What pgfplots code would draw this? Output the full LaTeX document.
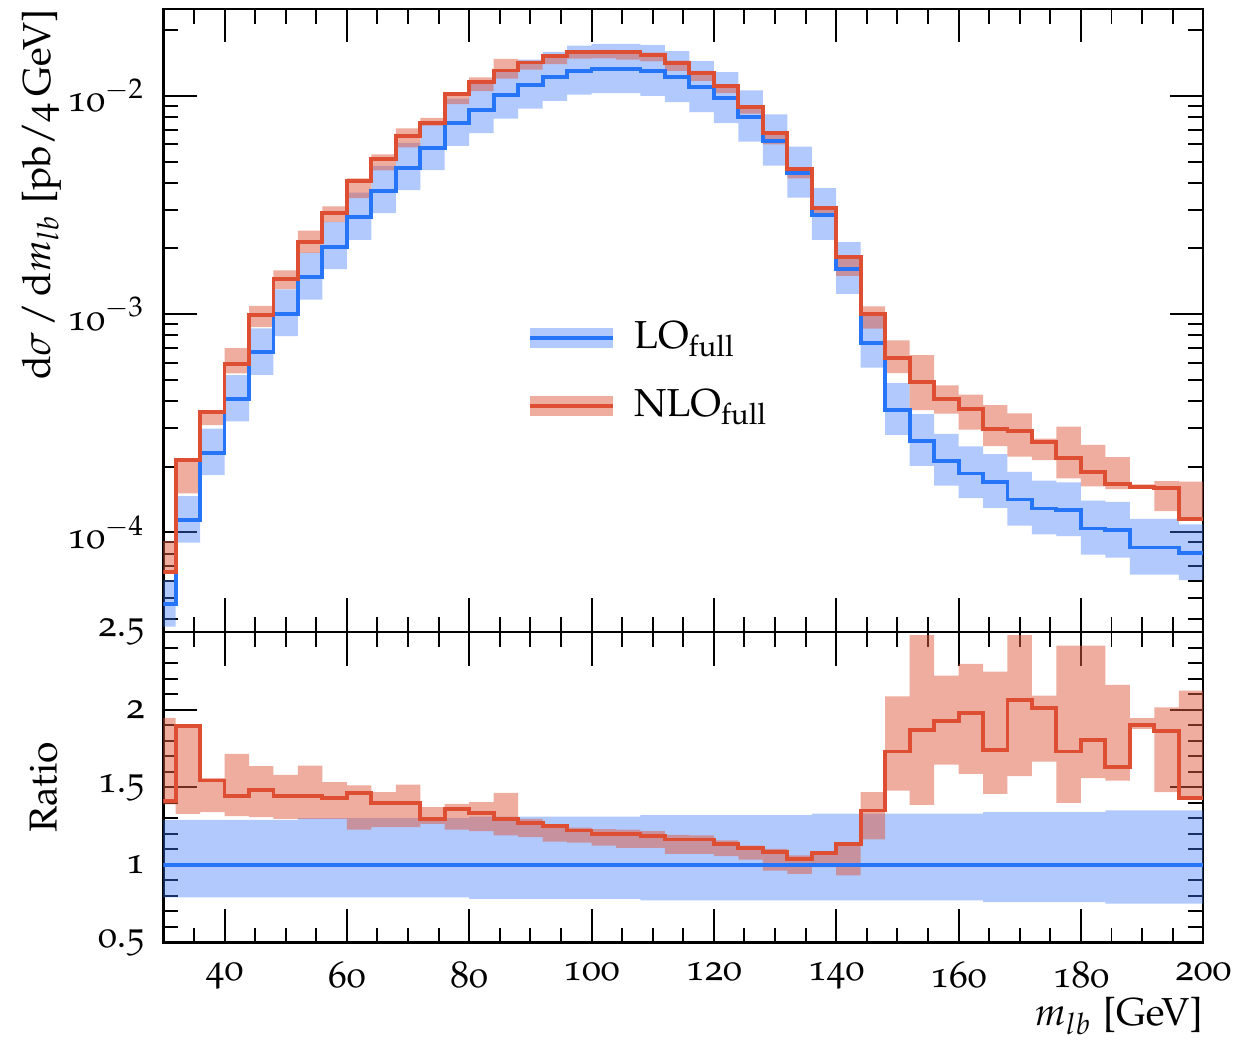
\documentclass[border=0pt]{standalone}
\usepackage[T1]{fontenc}
\usepackage[osf]{mathpazo}
\usepackage{pgfplots}
\pgfplotsset{compat=1.18}
\usepackage{pgfplotstable}
\usepgfplotslibrary{fillbetween}

\definecolor{loline}{RGB}{38,117,248}
\definecolor{loband}{RGB}{60,120,250}
\definecolor{nloline}{RGB}{222,78,50}
\definecolor{nloband}{RGB}{222,92,62}

% m_lb distribution, left bin edges (last row closes the final bin)
% x  LO  LO-down  LO-up  NLO  NLO-down  NLO-up
\pgfplotstableread{
x   lo        lolo      lohi      nlo       nlolo     nlohi
28  4.694e-5  3.708e-5  6.055e-5  6.619e-5  6.525e-5  9.139e-5
32  1.138e-4  8.990e-5  1.468e-4  2.154e-4  1.511e-4  2.162e-4
36  2.316e-4  1.830e-4  2.988e-4  3.574e-4  3.101e-4  3.608e-4
40  4.080e-4  3.223e-4  5.263e-4  5.900e-4  5.357e-4  6.997e-4
44  6.680e-4  5.277e-4  8.617e-4  9.906e-4  8.731e-4  1.092e-3
48  1.005e-3  7.940e-4  1.297e-3  1.453e-3  1.303e-3  1.588e-3
52  1.473e-3  1.164e-3  1.915e-3  2.130e-3  1.909e-3  2.414e-3
56  2.034e-3  1.607e-3  2.644e-3  2.911e-3  2.636e-3  3.116e-3
60  2.773e-3  2.191e-3  3.605e-3  4.054e-3  3.402e-3  4.190e-3
64  3.671e-3  2.900e-3  4.772e-3  5.136e-3  4.559e-3  5.389e-3
68  4.679e-3  3.696e-3  6.083e-3  6.546e-3  5.811e-3  7.098e-3
72  5.777e-3  4.564e-3  7.510e-3  7.487e-3  7.302e-3  7.920e-3
76  7.473e-3  5.904e-3  9.715e-3  1.017e-2  9.169e-3  1.041e-2
80  8.646e-3  6.744e-3  1.133e-2  1.154e-2  1.052e-2  1.214e-2
84  1.007e-2  7.858e-3  1.320e-2  1.306e-2  1.198e-2  1.475e-2
88  1.119e-2  8.728e-3  1.466e-2  1.421e-2  1.318e-2  1.450e-2
92  1.214e-2  9.469e-3  1.590e-2  1.516e-2  1.396e-2  1.530e-2
96  1.297e-2  1.012e-2  1.699e-2  1.584e-2  1.481e-2  1.608e-2
100 1.321e-2  1.030e-2  1.731e-2  1.585e-2  1.485e-2  1.625e-2
104 1.321e-2  1.030e-2  1.731e-2  1.585e-2  1.465e-2  1.621e-2
108 1.297e-2  9.987e-3  1.712e-2  1.537e-2  1.438e-2  1.578e-2
112 1.214e-2  9.348e-3  1.603e-2  1.412e-2  1.300e-2  1.448e-2
116 1.093e-2  8.416e-3  1.443e-2  1.271e-2  1.171e-2  1.300e-2
120 9.730e-3  7.492e-3  1.284e-2  1.104e-2  1.028e-2  1.126e-2
124 8.014e-3  6.171e-3  1.058e-2  8.888e-3  8.286e-3  9.008e-3
128 6.222e-3  4.791e-3  8.213e-3  6.732e-3  5.992e-3  6.863e-3
132 4.439e-3  3.418e-3  5.859e-3  4.612e-3  4.182e-3  4.705e-3
136 2.841e-3  2.188e-3  3.779e-3  3.054e-3  2.798e-3  3.074e-3
140 1.607e-3  1.237e-3  2.137e-3  1.824e-3  1.496e-3  1.835e-3
144 7.386e-4  5.687e-4  9.823e-4  9.971e-4  8.590e-4  1.084e-3
148 3.633e-4  2.797e-4  4.832e-4  6.285e-4  5.370e-4  7.578e-4
152 2.620e-4  2.017e-4  3.485e-4  4.897e-4  3.631e-4  6.498e-4
156 2.128e-4  1.639e-4  2.830e-4  4.105e-4  3.503e-4  4.722e-4
160 1.863e-4  1.435e-4  2.478e-4  3.687e-4  2.955e-4  4.274e-4
164 1.705e-4  1.296e-4  2.285e-4  2.967e-4  2.484e-4  3.828e-4
168 1.416e-4  1.076e-4  1.897e-4  2.920e-4  2.225e-4  3.512e-4
172 1.288e-4  9.789e-5  1.726e-4  2.588e-4  2.145e-4  2.692e-4
176 1.265e-4  9.614e-5  1.695e-4  2.188e-4  1.770e-4  3.051e-4
180 1.043e-4  7.927e-5  1.398e-4  1.885e-4  1.625e-4  2.516e-4
184 1.024e-4  7.680e-5  1.382e-4  1.672e-4  1.580e-4  2.211e-4
188 8.537e-5  6.403e-5  1.153e-4  1.623e-4  1.602e-4  1.660e-4
192 8.537e-5  6.403e-5  1.153e-4  1.592e-4  1.253e-4  1.720e-4
196 8.065e-5  6.049e-5  1.089e-4  1.154e-4  1.149e-4  1.711e-4
200 8.065e-5  6.049e-5  1.089e-4  1.154e-4  1.149e-4  1.711e-4
}\tabtop

% ratio to the LO central value
\pgfplotstableread{
x   ru    rl    r      rhi    rlo
28  1.29  0.79  1.41   1.947  1.39
32  1.29  0.79  1.893  1.90   1.328
36  1.29  0.79  1.543  1.558  1.339
40  1.29  0.79  1.446  1.715  1.313
44  1.29  0.79  1.483  1.635  1.307
48  1.29  0.79  1.446  1.58   1.296
52  1.30  0.79  1.446  1.639  1.296
56  1.30  0.79  1.431  1.532  1.296
60  1.30  0.79  1.462  1.511  1.227
64  1.30  0.79  1.399  1.468  1.242
68  1.30  0.79  1.399  1.517  1.242
72  1.30  0.79  1.296  1.371  1.264
76  1.30  0.79  1.361  1.393  1.227
80  1.31  0.78  1.335  1.404  1.217
84  1.31  0.78  1.296  1.464  1.189
88  1.31  0.78  1.27   1.296  1.178
92  1.31  0.78  1.249  1.26   1.15
96  1.31  0.78  1.221  1.24   1.142
100 1.31  0.78  1.20   1.23   1.124
104 1.31  0.78  1.20   1.227  1.109
108 1.32  0.77  1.185  1.217  1.109
112 1.32  0.77  1.163  1.193  1.071
116 1.32  0.77  1.163  1.189  1.071
120 1.32  0.77  1.135  1.157  1.056
124 1.32  0.77  1.109  1.124  1.034
128 1.32  0.77  1.082  1.103  0.963
132 1.32  0.77  1.039  1.06   0.942
136 1.33  0.77  1.075  1.082  0.985
140 1.33  0.77  1.135  1.142  0.931
144 1.33  0.77  1.35   1.468  1.163
148 1.33  0.77  1.73   2.086  1.478
152 1.33  0.77  1.869  2.48   1.386
156 1.33  0.77  1.929  2.219  1.646
160 1.33  0.77  1.979  2.294  1.586
164 1.34  0.76  1.74   2.245  1.457
168 1.34  0.76  2.062  2.48   1.571
172 1.34  0.76  2.009  2.09   1.665
176 1.34  0.76  1.73   2.412  1.399
180 1.34  0.76  1.807  2.412  1.558
184 1.35  0.75  1.633  2.159  1.543
188 1.35  0.75  1.901  1.945  1.876
192 1.35  0.75  1.865  2.015  1.468
196 1.35  0.75  1.431  2.122  1.425
200 1.35  0.75  1.431  2.122  1.425
}\tabratio

\pgfplotsset{
  histaxis/.style={
    scale only axis, width=266.7pt,
    xmin=30, xmax=200,
    xtick={40,60,...,200}, minor xtick={35,40,...,200},
    axis line style={line width=0.6pt},
    every tick/.style={black, line width=0.5pt},
    major tick length=8.6pt, minor tick length=3.8pt,
    tick align=inside, xtick pos=both, ytick pos=both,
    /pgf/number format/assume math mode=true,
    tick label style={font=\fontsize{9.6}{11}\selectfont},
    yticklabel style={xshift=-1.2pt},
    xticklabel style={yshift=-1.5pt},
  },
  band/.style={draw=none, const plot mark left, forget plot},
  histline/.style={line width=1pt, const plot mark left, forget plot},
}

\begin{document}
\begin{tikzpicture}
% upper panel: differential cross section
\begin{axis}[histaxis,
  at={(0,0)}, anchor=south west, height=159.8pt,
  ymode=log, ymin=3.5e-5, ymax=2.5e-2,
  ytick={1e-4,1e-3,1e-2},
  yticklabels={10$^{-4}$,10$^{-3}$,10$^{-2}$},
  minor ytick={4e-5,5e-5,6e-5,7e-5,8e-5,9e-5,
    2e-4,3e-4,4e-4,5e-4,6e-4,7e-4,8e-4,9e-4,
    2e-3,3e-3,4e-3,5e-3,6e-3,7e-3,8e-3,9e-3,2e-2},
  xticklabels={},
  ylabel={d$\sigma$\,/\,d$m_{lb}$\;[pb/4\,GeV]},
  ylabel style={at={(axis description cs:-0.0975,1)}, anchor=south east, inner sep=0pt},
  legend style={at={(axis description cs:0.3497,0.4176)}, anchor=west,
    draw=none, fill=none, inner sep=0pt, row sep=5pt,
    font=\fontsize{10}{12}\selectfont},
  legend cell align=left,
]
\addplot[band, name path=loU] table[x=x, y=lohi] {\tabtop};
\addplot[band, name path=loL] table[x=x, y=lolo] {\tabtop};
\addplot[fill=loband, fill opacity=0.4, draw=none, forget plot] fill between[of=loU and loL];
\addplot[histline, loline] table[x=x, y=lo] {\tabtop};

\addplot[band, name path=nloU] table[x=x, y=nlohi] {\tabtop};
\addplot[band, name path=nloL] table[x=x, y=nlolo] {\tabtop};
\addplot[fill=nloband, fill opacity=0.5, draw=none, forget plot] fill between[of=nloU and nloL];
\addplot[histline, nloline] table[x=x, y=nlo] {\tabtop};

\addlegendimage{legend image code/.code={
  \path[fill=loband, fill opacity=0.4, draw=none] (0pt,-2.6pt) rectangle (21.3pt,2.6pt);
  \path[draw=loline, line width=1pt] (0pt,0pt) -- (21.3pt,0pt);}}
\addlegendentry{\hspace{3pt}LO\textsubscript{full}}
\addlegendimage{legend image code/.code={
  \path[fill=nloband, fill opacity=0.5, draw=none] (0pt,-2.6pt) rectangle (21.3pt,2.6pt);
  \path[draw=nloline, line width=1pt] (0pt,0pt) -- (21.3pt,0pt);}}
\addlegendentry{\hspace{3pt}NLO\textsubscript{full}}
\end{axis}

% lower panel: ratio to LO
\begin{axis}[histaxis,
  at={(0,0)}, anchor=north west, height=79.6pt,
  ymin=0.5, ymax=2.5,
  ytick={0.5,1,1.5,2,2.5}, minor y tick num=4,
  ylabel={Ratio},
  ylabel style={at={(axis description cs:-0.101,0.5)}, anchor=south, inner sep=0pt},
  xlabel={$m_{lb}$\;[GeV]},
  xlabel style={at={(axis description cs:1,-0.176)}, anchor=north east, inner sep=0pt},
]
\addplot[band, name path=rloU] table[x=x, y=ru] {\tabratio};
\addplot[band, name path=rloL] table[x=x, y=rl] {\tabratio};
\addplot[fill=loband, fill opacity=0.4, draw=none, forget plot] fill between[of=rloU and rloL];
\addplot[loline, line width=1pt, forget plot] coordinates {(30,1) (200,1)};

\addplot[band, name path=rnloU] table[x=x, y=rhi] {\tabratio};
\addplot[band, name path=rnloL] table[x=x, y=rlo] {\tabratio};
\addplot[fill=nloband, fill opacity=0.5, draw=none, forget plot] fill between[of=rnloU and rnloL];
\addplot[histline, nloline] table[x=x, y=r] {\tabratio};
\end{axis}

\pgfresetboundingbox
\path[use as bounding box] (-41.9pt,-104.65pt) rectangle (275.1pt,162.1pt);
\end{tikzpicture}
\end{document}
